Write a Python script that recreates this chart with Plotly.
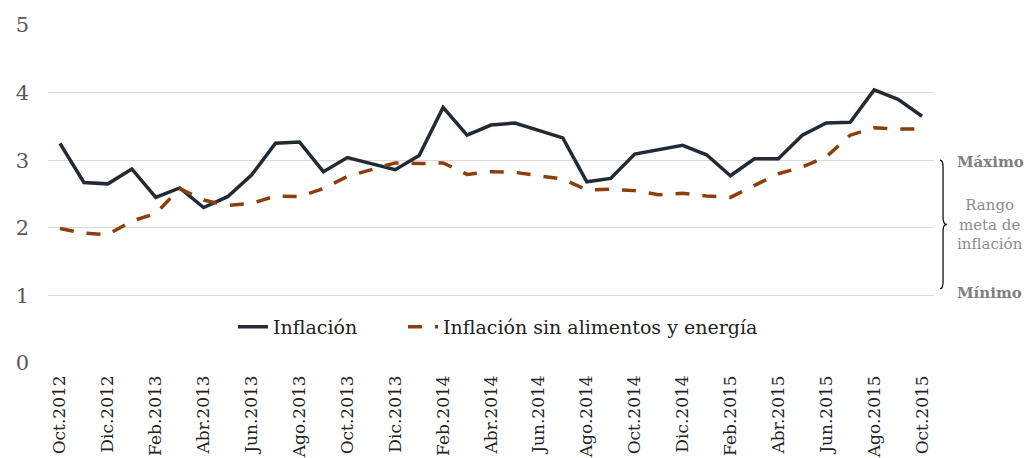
import plotly.graph_objects as go

meses = ["Oct", "Nov", "Dic", "Ene", "Feb", "Mar", "Abr", "May", "Jun", "Jul", "Ago", "Sep"]
anios = [2012, 2012, 2012] + [2013] * 12 + [2014] * 12 + [2015] * 10
fechas = [f"{meses[i % 12]}.{anios[i]}" for i in range(37)]

inflacion = [3.25, 2.67, 2.65, 2.87, 2.45, 2.59, 2.30, 2.46, 2.78, 3.25, 3.27, 2.83,
             3.04, 2.95, 2.86, 3.07, 3.78, 3.37, 3.52, 3.55, 3.44, 3.33, 2.68, 2.73,
             3.09, 3.16, 3.22, 3.08, 2.77, 3.02, 3.02, 3.37, 3.55, 3.56, 4.04, 3.90, 3.65]

subyacente = [1.99, 1.92, 1.90, 2.10, 2.21, 2.58, 2.41, 2.33, 2.36, 2.47, 2.46, 2.58,
              2.76, 2.86, 2.96, 2.95, 2.96, 2.79, 2.83, 2.82, 2.77, 2.72, 2.56, 2.57,
              2.55, 2.49, 2.51, 2.47, 2.45, 2.63, 2.80, 2.90, 3.05, 3.37, 3.48, 3.46, 3.46]

etiquetas = fechas[::2]

FONT = "DejaVu Serif"

fig = go.Figure()
fig.add_trace(go.Scatter(x=fechas, y=inflacion, name="Inflación", mode="lines",
                         line=dict(color="#222B35", width=3.5), legend="legend"))
fig.add_trace(go.Scatter(x=fechas, y=subyacente, name="Inflación sin alimentos y energía",
                         mode="lines", legend="legend2",
                         line=dict(color="#8B3F0C", width=3.5, dash="14px,13px")))

# llave del rango meta
fig.add_shape(type="path", xref="paper", yref="y",
              path="M 1.0068,3.0 Q 1.0102,3.0 1.0102,2.9 L 1.0102,2.15 Q 1.0102,2.05 1.0145,2.05 "
                   "Q 1.0102,2.05 1.0102,1.95 L 1.0102,1.2 Q 1.0102,1.1 1.0068,1.1",
              line=dict(color="black", width=1.2))

fig.add_annotation(x=1.0237, y=2.98, xref="paper", yref="y", text="<b>Máximo</b>",
                   xanchor="left", showarrow=False,
                   font=dict(family=FONT, size=15, color="#7F7F7F"))
fig.add_annotation(x=1.0237, y=1.03, xref="paper", yref="y", text="<b>Mínimo</b>",
                   xanchor="left", showarrow=False,
                   font=dict(family=FONT, size=15, color="#7F7F7F"))
fig.add_annotation(x=1.0632, y=2.05, xref="paper", yref="y", xanchor="center",
                   text="Rango<br>meta de<br>inflación", showarrow=False, align="center",
                   font=dict(family=FONT, size=15, color="#8C8C8C"))

leyenda = dict(orientation="h", y=0.107, yanchor="middle", xanchor="left",
               font=dict(size=19, color="#222222"), bgcolor="rgba(0,0,0,0)")

fig.update_layout(
    width=1024, height=450,
    margin=dict(l=40, r=98, t=17, b=95, autoexpand=False),
    plot_bgcolor="white", paper_bgcolor="white",
    font=dict(family=FONT, size=19, color="#222222"),
    showlegend=True,
    legend=dict(leyenda, x=0.2088),
    legend2=dict(leyenda, x=0.4007),
    xaxis=dict(tickmode="array", tickvals=etiquetas, ticktext=etiquetas, tickangle=-90,
               range=[-0.5, 36.5], automargin=False, ticklabelstandoff=8,
               showgrid=False, showline=False, ticks="",
               tickfont=dict(size=17, color="#222222")),
    yaxis=dict(range=[0, 5], dtick=1, showgrid=True, gridcolor="#D9D9D9", gridwidth=1,
               zeroline=False, showline=False, ticks="", automargin=False,
               tickfont=dict(size=21, color="#595959"), ticklabelstandoff=18),
)

fig.write_html("out.html")
